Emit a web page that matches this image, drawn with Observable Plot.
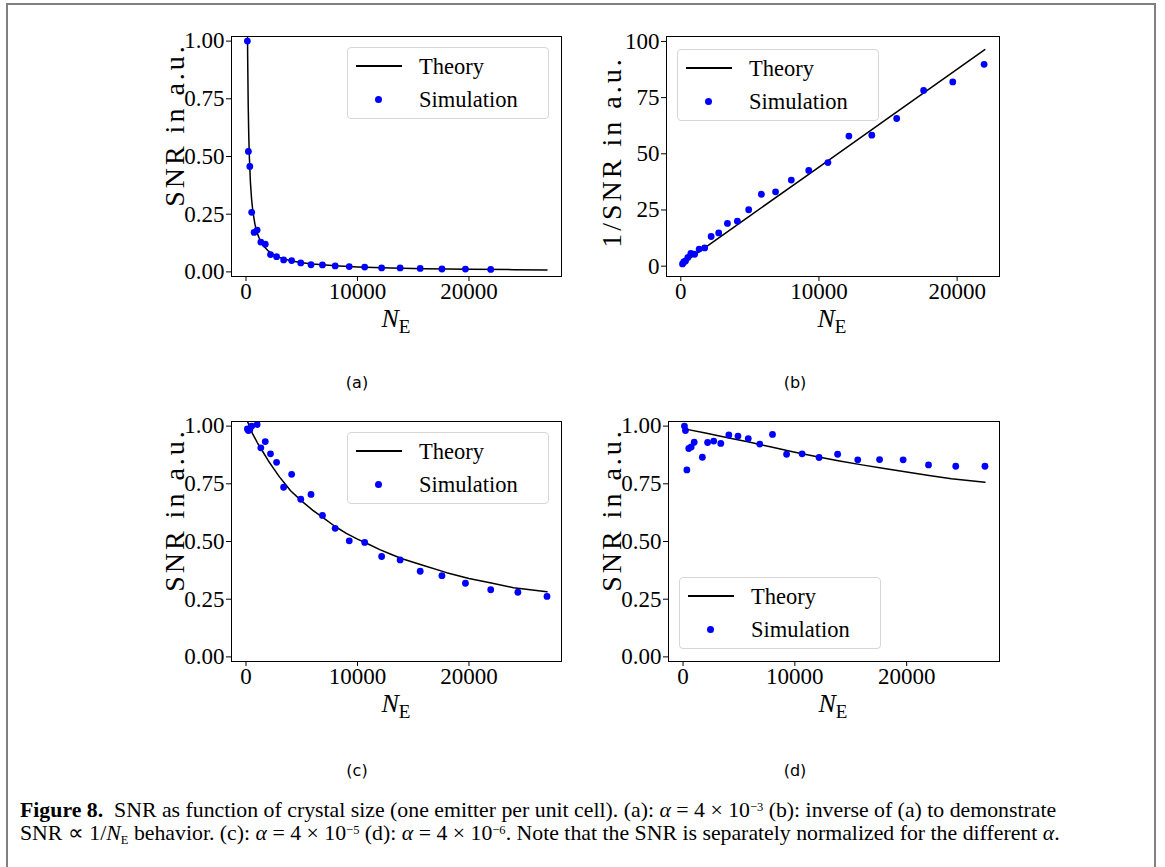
<!DOCTYPE html>
<html><head><meta charset="utf-8">
<script src="https://cdn.jsdelivr.net/npm/d3@7"></script>
<script src="https://cdn.jsdelivr.net/npm/@observablehq/plot@0.6"></script>
<style>
html,body{margin:0;padding:0;background:#fff;}
body{width:1165px;height:867px;position:relative;overflow:hidden;font-family:"Liberation Serif",serif;color:#000;}
.pageframe{position:absolute;left:6px;top:3px;width:1150px;height:1000px;border:2px solid #808080;box-sizing:border-box;}
.ylab{position:absolute;white-space:nowrap;font-size:28px;letter-spacing:3px;transform:translate(-50%,-50%) rotate(-90deg);}
.xlab{position:absolute;white-space:nowrap;font-size:26px;transform:translate(-50%,0);}
.xlab sub{font-size:19px;vertical-align:-6px;line-height:0;}
.sub{position:absolute;font-family:"DejaVu Sans",sans-serif;font-size:16px;transform:translate(-50%,-50%);}
.leg{position:absolute;width:202px;height:72px;border:1px solid #d6d6d6;border-radius:4px;background:rgba(255,255,255,0.85);box-sizing:border-box;font-size:22.5px;}
.leg .ln{position:absolute;left:8px;top:17px;width:46px;height:1.5px;background:#000;}
.leg .dt{position:absolute;left:27px;top:48px;width:7px;height:7px;border-radius:50%;background:#0000ff;}
.leg .t1{position:absolute;left:71px;top:6px;line-height:26px;}
.leg .t2{position:absolute;left:71px;top:39px;line-height:26px;}
.cap{position:absolute;left:20px;font-size:21.8px;line-height:22px;white-space:nowrap;}
.cap sup{font-size:12.5px;vertical-align:6px;line-height:0;}
.cap sub{font-size:12.5px;vertical-align:-4px;line-height:0;}
</style>
</head><body>
<div class="pageframe"></div>
<script>
// ---- data ----
// (a) simulation
const nA = [125,216,343,512,729,1000,1331,1728,2197,2744,3375,4096,4913,5832,6859,8000,9261,10648,12167,13824,15625,17576,19683,21952];
const simA = [1.000,0.522,0.457,0.258,0.171,0.181,0.129,0.120,0.075,0.066,0.052,0.049,0.039,0.031,0.030,0.026,0.023,0.021,0.017,0.017,0.015,0.0125,0.012,0.0105];
// (a) theory
const thNA = [80,100,125,150,200,250,300,400,500,600,800,1000,1250,1500,2000,2500,3000,4000,5000,6000,8000,10000,13000,16000,20000,24000,27000];
const thA = [1.643,1.344,1.10,0.933,0.720,0.589,0.500,0.386,0.316,0.268,0.207,0.169,0.138,0.117,0.0907,0.0742,0.0629,0.0486,0.0398,0.0337,0.0261,0.0213,0.0168,0.0140,0.0114,0.0097,0.0087];
// (b) 1/SNR simulation
const nB = [125,216,343,512,729,1000,1331,1728,2197,2744,3375,4096,4913,5832,6859,8000,9261,10648,12167,13824,15625,17576,19683,21952];
const simB = [1.0,1.9,2.3,3.9,5.7,5.3,7.6,8.1,13.2,14.8,19.0,20.0,25.1,32.0,33.1,38.3,42.6,46.1,57.9,58.3,65.7,78.2,82.0,89.8];
// (b) theory
const thNB = [125,5000,10000,15000,22000];
const thB = [1.13,22.4,44.1,65.9,96.4];
// (c) simulation
const nC = [125,216,343,512,1000,1331,1728,2197,2744,3375,4096,4913,5832,6859,8000,9261,10648,12167,13824,15625,17576,19683,21952,24389,27000];
const simC = [0.988,0.981,0.984,1.000,1.007,0.906,0.933,0.880,0.843,0.735,0.791,0.683,0.704,0.613,0.557,0.503,0.496,0.435,0.420,0.371,0.352,0.319,0.291,0.280,0.262];
// (c) theory
const thNC = [100,500,1000,1500,2000,2500,3000,3500,4000,5000,6000,7000,8000,9000,10000,11000,12000,13000,14000,16000,18000,20000,22000,24000,27000];
const thC = [1.025,0.975,0.93,0.89,0.85,0.815,0.78,0.75,0.72,0.675,0.635,0.60,0.565,0.535,0.51,0.488,0.465,0.445,0.425,0.395,0.365,0.34,0.32,0.30,0.282];
// (d) simulation
const nD = [125,216,343,512,729,1000,1728,2197,2744,3375,4096,4913,5832,6859,8000,9261,10648,12167,13824,15625,17576,19683,21952,24389,27000];
const simD = [1.000,0.981,0.810,0.903,0.910,0.930,0.865,0.929,0.935,0.925,0.962,0.957,0.946,0.922,0.964,0.878,0.880,0.864,0.878,0.854,0.855,0.854,0.832,0.826,0.826];
// (d) theory
const thND = [125,2000,4000,6000,8000,10000,12000,14000,16000,18000,20000,22000,24000,27000];
const thD = [0.988,0.970,0.950,0.930,0.908,0.887,0.867,0.849,0.832,0.816,0.801,0.786,0.772,0.757];

const xTicks = [0,10000,20000];
const yTicksSNR = [0,0.25,0.5,0.75,1];
const yTicksInv = [0,25,50,75,100];

const zip = (n, v) => n.map((d, i) => ({n: d, v: v[i]}));

function panel({left, top, fw, fh, xdom, ydom, yticks, ytf, th, sim}) {
  const mL = 80, mT = 12, mR = 12, mB = 40;
  const p = Plot.plot({
    width: mL + fw + mR, height: mT + fh + mB,
    marginLeft: mL, marginTop: mT, marginRight: mR, marginBottom: mB,
    style: {fontFamily: "Liberation Serif", fontSize: "23px", color: "black", background: "transparent", overflow: "visible"},
    x: {domain: xdom},
    y: {domain: ydom},
    marks: [
      Plot.line(th, {x: "n", y: "v", stroke: "black", strokeWidth: 1.5, clip: true}),
      Plot.dot(sim, {x: "n", y: "v", r: 3.4, fill: "#0000ff", stroke: "none", clip: true}),
      Plot.frame({stroke: "black", strokeWidth: 1}),
      Plot.axisX({ticks: xTicks, tickSize: 5, tickPadding: 1, tickFormat: d => String(d), label: null, fontSize: 23}),
      Plot.axisY({ticks: yticks, tickSize: 5, tickPadding: 2, tickFormat: ytf, label: null, fontSize: 23})
    ]
  });
  p.style.position = "absolute";
  p.style.left = (left - mL) + "px";
  p.style.top = (top - mT) + "px";
  document.body.appendChild(p);
}

const f2 = d3.format(".2f");
const f0 = d => String(d);
panel({left: 231, top: 36, fw: 330, fh: 240, xdom: [-1300, 28300], ydom: [-0.02, 1.02], yticks: yTicksSNR, ytf: f2, th: zip(thNA, thA), sim: zip(nA, simA)});
panel({left: 666, top: 36, fw: 333, fh: 240, xdom: [-1034, 23066], ydom: [-4.6, 102.2], yticks: yTicksInv, ytf: f0, th: zip(thNB, thB), sim: zip(nB, simB)});
panel({left: 231, top: 421, fw: 330, fh: 240, xdom: [-1300, 28300], ydom: [-0.02, 1.02], yticks: yTicksSNR, ytf: f2, th: zip(thNC, thC), sim: zip(nC, simC)});
panel({left: 668, top: 421, fw: 331, fh: 240, xdom: [-1300, 28300], ydom: [-0.02, 1.02], yticks: yTicksSNR, ytf: f2, th: zip(thND, thD), sim: zip(nD, simD)});

function add(html) { document.body.insertAdjacentHTML("beforeend", html); }
function legend(x, y) {
  add(`<div class="leg" style="left:${x}px;top:${y}px"><div class="ln"></div><div class="dt"></div><div class="t1">Theory</div><div class="t2">Simulation</div></div>`);
}
legend(347, 47); legend(677, 49); legend(347, 432); legend(679, 577);

function labels(cx, xlabY, ylx, yly, ytext) {
  add(`<div class="xlab" style="left:${cx}px;top:${xlabY}px"><i>N</i><sub>E</sub></div>`);
  add(`<div class="ylab" style="left:${ylx}px;top:${yly}px">${ytext}</div>`);
}
labels(396, 304, 175, 125, "SNR in a.u.");
labels(832, 304, 612, 152, "1/SNR in a.u.");
labels(396, 689, 175, 510, "SNR in a.u.");
labels(833, 689, 612, 510, "SNR in a.u.");

add(`<div class="sub" style="left:357px;top:382px">(a)</div>`);
add(`<div class="sub" style="left:795px;top:382px">(b)</div>`);
add(`<div class="sub" style="left:357px;top:770px">(c)</div>`);
add(`<div class="sub" style="left:795px;top:770px">(d)</div>`);

add(`<div class="cap" style="top:799px"><b>Figure 8.</b>&nbsp; SNR as function of crystal size (one emitter per unit cell). (a): <i>α</i> = 4 × 10<sup>−3</sup> (b): inverse of (a) to demonstrate</div>`);
add(`<div class="cap" style="top:822px">SNR ∝ 1/<i>N</i><sub>E</sub> behavior. (c): <i>α</i> = 4 × 10<sup>−5</sup> (d): <i>α</i> = 4 × 10<sup>−6</sup>. Note that the SNR is separately normalized for the different <i>α</i>.</div>`);
</script>
</body></html>
